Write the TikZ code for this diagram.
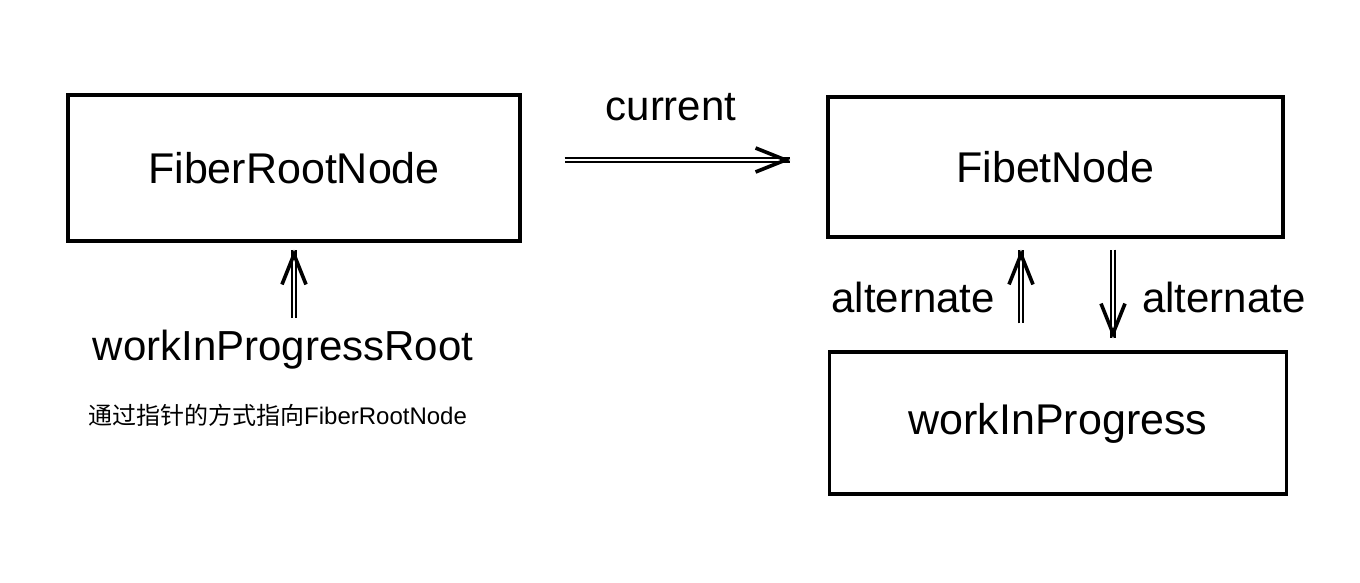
\documentclass[tikz,border=0pt]{standalone}
\usepackage{fontspec}
\setmainfont{Liberation Sans}
\newfontfamily\cjk{Noto Sans CJK SC}
\usetikzlibrary{arrows.meta}

\begin{document}
\begin{tikzpicture}[x=1pt,y=-1pt,>={Straight Barb[length=30pt,width=24pt,line width=3.6pt]}]

  \tikzstyle{box}=[rectangle,draw=black,line width=3.2pt,fill=white,
    inner sep=0pt,font=\fontsize{43}{48}\selectfont]
  \tikzstyle{lbl}=[inner sep=0pt,anchor=base,font=\fontsize{42}{48}\selectfont]
  \tikzstyle{note}=[inner sep=0pt,anchor=base west,font=\fontsize{24}{28}\selectfont]

  \useasboundingbox (0,0) rectangle (1360,582);
  %% \draw [help lines,step=50] (0,0) grid (1360,582);

  \node  (root) at (294,168)   [box,minimum width=452pt,minimum height=146pt] {FiberRootNode};
  \node  (fib)  at (1055.5,167) [box,minimum width=455pt,minimum height=140pt] {FibetNode};
  \node  (wip)  at (1058,423)  [box,minimum width=457pt,minimum height=142pt] {workInProgress};

  \node  (cur)  at (671,120)   [lbl]                    {current};
  \node  (wipr) at (283,360)   [lbl]                    {workInProgressRoot};
  \node  (hint) at (88,424)    [note]                   {{\cjk 通过指针的方式指向}FiberRootNode};
  \node  (altl) at (995,312)   [lbl,anchor=base east]   {alternate};
  \node  (altr) at (1142,312)  [lbl,anchor=base west]   {alternate};

  \tikzstyle{ptr}=[draw,->,line width=2.4pt,dash pattern=on 0pt off 9000pt,
    preaction={draw,solid,-,double,line width=2.4pt,double distance=2pt}]

  \path ([yshift=8pt]root.east) edge [ptr,shorten <=43pt,shorten >=36pt] ([yshift=8pt]root.east -| fib.west)
        (root.south |- 0,318) edge [ptr,shorten >=7pt] (root.south)
        ([xshift=-34.5pt]fib.south |- wip.north)
              edge [ptr,shorten <=27pt,shorten >=11pt] ([xshift=-34.5pt]fib.south)
        ([xshift=57.5pt]fib.south)
              edge [ptr,shorten <=11pt,shorten >=12pt] ([xshift=57.5pt]fib.south |- wip.north);
\end{tikzpicture}
\end{document}
